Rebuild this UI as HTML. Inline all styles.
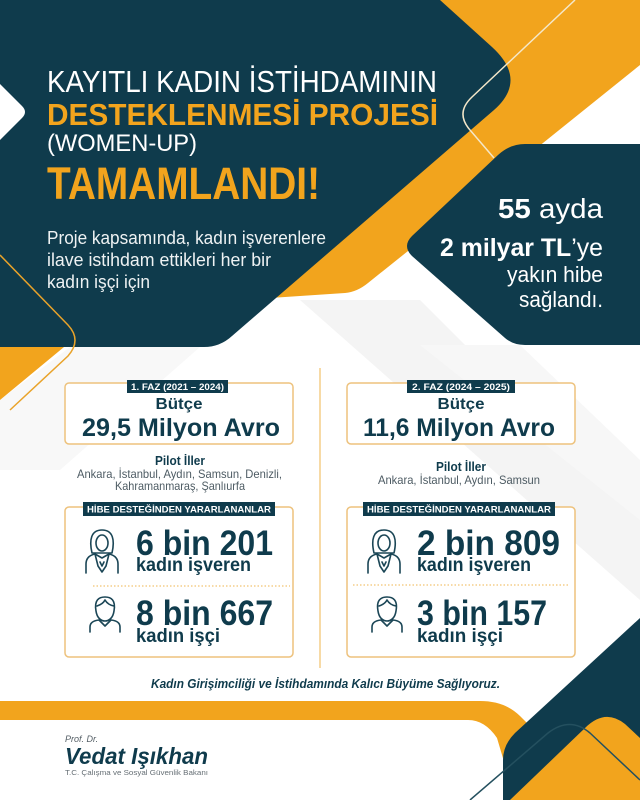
<!DOCTYPE html>
<html><head><meta charset="utf-8"><style>
html,body{margin:0;padding:0;background:#fff;}
svg{display:block;}
text{font-family:"Liberation Sans",sans-serif;}
</style></head><body>
<svg width="640" height="800" viewBox="0 0 640 800" xmlns="http://www.w3.org/2000/svg">
<rect width="640" height="800" fill="#ffffff"/>
<!-- subtle gray shading -->
<path d="M300,300 L420,300 L640,520 L640,600 Z" fill="#f4f4f4"/>
<path d="M420,345 L520,345 L640,460 L640,520 Z" fill="#f7f7f7"/>
<path d="M0,400 L70,347 L200,347 L60,470 L0,470 Z" fill="#f8f8f8"/>

<!-- orange diagonal band -->
<path d="M400,0 L640,0 L640,65 L543,143 L368,283 Q357,292 345,293 L270,298 L240,300 Z" fill="#f2a41d"/>
<!-- main dark shape -->
<path d="M0,0 L440,0 L492,47 Q528,80 494,110 L232,336 Q220,347 204,347 L0,347 Z" fill="#0f3b4c"/>
<!-- cream thin line -->
<path d="M575,0 L472,97 Q455,113 470,130 L494,158" fill="none" stroke="#f4e7c9" stroke-width="1.5"/>
<!-- right dark panel -->
<path d="M640,144 L525,144 Q510,144 498,155 L412,236 Q402,246 412,256 L505,338 Q513,345 525,345 L640,345 Z" fill="#0f3b4c"/>
<!-- left white chevron -->
<path d="M0,84 L22,106 Q28,112 22,118 L0,140 Z" fill="#ffffff"/>
<!-- left thin orange line -->
<path d="M0,255 L68,325 Q82,340 68,356 L10,410" fill="none" stroke="#e9a32a" stroke-width="1.5"/>
<!-- lower-left orange triangle -->
<path d="M0,347 L64,347 L0,400 Z" fill="#f2a41d"/>

<!-- Title texts -->
<text x="47" y="92" font-size="31" fill="#ffffff" textLength="390" lengthAdjust="spacingAndGlyphs">KAYITLI KADIN İSTİHDAMININ</text>
<text x="47" y="125" font-size="31" font-weight="bold" fill="#f2a41d" textLength="391" lengthAdjust="spacingAndGlyphs">DESTEKLENMESİ PROJESİ</text>
<text x="47" y="151" font-size="24" fill="#ffffff" textLength="150" lengthAdjust="spacingAndGlyphs">(WOMEN-UP)</text>
<text x="47" y="199" font-size="45" font-weight="bold" fill="#f2a41d" textLength="273" lengthAdjust="spacingAndGlyphs">TAMAMLANDI!</text>

<text x="47" y="244" font-size="18" fill="#eef2f3" textLength="279" lengthAdjust="spacingAndGlyphs">Proje kapsamında, kadın işverenlere</text>
<text x="47" y="266" font-size="18" fill="#eef2f3" textLength="224" lengthAdjust="spacingAndGlyphs">ilave istihdam ettikleri her bir</text>
<text x="47" y="288" font-size="18" fill="#eef2f3" textLength="103" lengthAdjust="spacingAndGlyphs">kadın işçi için</text>

<!-- right panel texts -->
<text x="603" y="218" font-size="28" fill="#ffffff" text-anchor="end" textLength="105" lengthAdjust="spacingAndGlyphs"><tspan font-weight="bold">55</tspan> ayda</text>
<text x="603" y="256" font-size="25" fill="#ffffff" text-anchor="end" textLength="163" lengthAdjust="spacingAndGlyphs"><tspan font-weight="bold">2 milyar TL</tspan>’ye</text>
<text x="603" y="282" font-size="22" fill="#ffffff" text-anchor="end" textLength="96" lengthAdjust="spacingAndGlyphs">yakın hibe</text>
<text x="603" y="307" font-size="22" fill="#ffffff" text-anchor="end" textLength="84" lengthAdjust="spacingAndGlyphs">sağlandı.</text>

<!-- vertical separator -->
<line x1="320" y1="368" x2="320" y2="668" stroke="#efb44c" stroke-width="1"/>

<!-- ===== Column 1 ===== -->
<rect x="65" y="383" width="228" height="61" rx="4" fill="#ffffff" stroke="#edc27d" stroke-width="1.5"/>
<rect x="127" y="380" width="101" height="13" fill="#0f3b4c"/>
<text x="177.5" y="390" font-size="9.5" font-weight="bold" fill="#ffffff" text-anchor="middle" textLength="93" lengthAdjust="spacingAndGlyphs">1. FAZ (2021 – 2024)</text>
<text x="179" y="409" font-size="16" font-weight="bold" fill="#0f3b4c" text-anchor="middle" textLength="47" lengthAdjust="spacingAndGlyphs">Bütçe</text>
<text x="181" y="436" font-size="25" font-weight="bold" fill="#0f3b4c" text-anchor="middle" textLength="198" lengthAdjust="spacingAndGlyphs">29,5 Milyon Avro</text>

<text x="180" y="465" font-size="13" font-weight="bold" fill="#0f3b4c" text-anchor="middle" textLength="50" lengthAdjust="spacingAndGlyphs">Pilot İller</text>
<text x="179.5" y="478" font-size="12" fill="#4d5b63" text-anchor="middle" textLength="205" lengthAdjust="spacingAndGlyphs">Ankara, İstanbul, Aydın, Samsun, Denizli,</text>
<text x="180" y="490" font-size="12" fill="#4d5b63" text-anchor="middle" textLength="130" lengthAdjust="spacingAndGlyphs">Kahramanmaraş, Şanlıurfa</text>

<rect x="65" y="507" width="228" height="150" rx="4" fill="#ffffff" stroke="#edc27d" stroke-width="1.5"/>
<rect x="83" y="502" width="192" height="14" fill="#0f3b4c"/>
<text x="179" y="512.5" font-size="9.5" font-weight="bold" fill="#ffffff" text-anchor="middle" textLength="184" lengthAdjust="spacingAndGlyphs">HİBE DESTEĞİNDEN YARARLANANLAR</text>

<g id="ic1" fill="none" stroke="#1b4656" stroke-width="1.6" stroke-linejoin="round" stroke-linecap="round">
  <path d="M92,553 C89,540 91,530 102,530 C113,530 115,540 112,553 Z"/>
  <ellipse cx="102" cy="543" rx="6" ry="8"/>
  <path d="M86,573 L86,564 Q86,556 95,554 L102,558 L109,554 Q118,556 118,564 L118,573"/>
  <path d="M95,554 L98,566 L102,572 L106,566 L109,554"/>
  <path d="M100,562 L102,566 L104,562"/>
</g>
<text x="136" y="555" font-size="35" font-weight="bold" fill="#0f3b4c" textLength="137" lengthAdjust="spacingAndGlyphs">6 bin 201</text>
<text x="136" y="571" font-size="19" font-weight="bold" fill="#0f3b4c" textLength="115" lengthAdjust="spacingAndGlyphs">kadın işveren</text>
<line x1="93" y1="586" x2="290" y2="586" stroke="#efb44c" stroke-width="1" stroke-dasharray="1.5 2"/>
<g id="ic2" fill="none" stroke="#1b4656" stroke-width="1.6" stroke-linejoin="round" stroke-linecap="round">
  <path d="M96,611 C94,600 99,597 105,597 C111,597 116,600 114,611 C113,618 109,621 105,621 C101,621 97,618 96,611 Z"/>
  <path d="M97,606 Q103,604 105,600 Q108,605 114,606"/>
  <path d="M90,632 L90,627 Q90,621 99,620 L105,626 L111,620 Q120,621 120,627 L120,632"/>
</g>
<text x="136" y="625" font-size="35" font-weight="bold" fill="#0f3b4c" textLength="137" lengthAdjust="spacingAndGlyphs">8 bin 667</text>
<text x="136" y="642" font-size="19" font-weight="bold" fill="#0f3b4c" textLength="84" lengthAdjust="spacingAndGlyphs">kadın işçi</text>

<!-- ===== Column 2 ===== -->
<rect x="347" y="383" width="228" height="61" rx="4" fill="#ffffff" stroke="#edc27d" stroke-width="1.5"/>
<rect x="407" y="380" width="108" height="13" fill="#0f3b4c"/>
<text x="461" y="390" font-size="9.5" font-weight="bold" fill="#ffffff" text-anchor="middle" textLength="98" lengthAdjust="spacingAndGlyphs">2. FAZ (2024 – 2025)</text>
<text x="461" y="409" font-size="16" font-weight="bold" fill="#0f3b4c" text-anchor="middle" textLength="47" lengthAdjust="spacingAndGlyphs">Bütçe</text>
<text x="459" y="436" font-size="25" font-weight="bold" fill="#0f3b4c" text-anchor="middle" textLength="192" lengthAdjust="spacingAndGlyphs">11,6 Milyon Avro</text>

<text x="461" y="471" font-size="13" font-weight="bold" fill="#0f3b4c" text-anchor="middle" textLength="50" lengthAdjust="spacingAndGlyphs">Pilot İller</text>
<text x="459" y="484" font-size="12" fill="#4d5b63" text-anchor="middle" textLength="162" lengthAdjust="spacingAndGlyphs">Ankara, İstanbul, Aydın, Samsun</text>

<rect x="347" y="507" width="228" height="150" rx="4" fill="#ffffff" stroke="#edc27d" stroke-width="1.5"/>
<rect x="363" y="502" width="192" height="14" fill="#0f3b4c"/>
<text x="459" y="512.5" font-size="9.5" font-weight="bold" fill="#ffffff" text-anchor="middle" textLength="184" lengthAdjust="spacingAndGlyphs">HİBE DESTEĞİNDEN YARARLANANLAR</text>

<use href="#ic1" transform="translate(282,0)"/>
<text x="417" y="555" font-size="35" font-weight="bold" fill="#0f3b4c" textLength="143" lengthAdjust="spacingAndGlyphs">2 bin 809</text>
<text x="417" y="571" font-size="19" font-weight="bold" fill="#0f3b4c" textLength="114" lengthAdjust="spacingAndGlyphs">kadın işveren</text>
<line x1="353" y1="585" x2="570" y2="585" stroke="#efb44c" stroke-width="1" stroke-dasharray="1.5 2"/>
<use href="#ic2" transform="translate(282,0)"/>
<text x="417" y="625" font-size="35" font-weight="bold" fill="#0f3b4c" textLength="130" lengthAdjust="spacingAndGlyphs">3 bin 157</text>
<text x="417" y="642" font-size="19" font-weight="bold" fill="#0f3b4c" textLength="86" lengthAdjust="spacingAndGlyphs">kadın işçi</text>

<!-- tagline -->
<text x="151" y="688" font-size="12.5" font-weight="bold" font-style="italic" fill="#0f3b4c" textLength="349" lengthAdjust="spacingAndGlyphs">Kadın Girişimciliği ve İstihdamında Kalıcı Büyüme Sağlıyoruz.</text>

<!-- bottom orange band -->
<path d="M0,701 L480,701 Q505,701 520,716 L540,736 L505,765 L497,738 Q485,720 468,720 L0,720 Z" fill="#f2a41d"/>
<!-- bottom-right dark shape -->
<path d="M640,618 L515,733 Q503,745 503,760 L503,800 L640,800 Z" fill="#0f3b4c"/>
<!-- bottom-right orange -->
<path d="M510,800 L585,728 Q605,708 625,724 L640,738 L640,800 Z" fill="#f2a41d"/>
<!-- thin line bottom-right -->
<path d="M470,800 L548,733 Q570,716 590,733 L640,780" fill="none" stroke="#24505f" stroke-width="1.5"/>

<!-- signature -->
<text x="65" y="742" font-size="9" font-style="italic" fill="#555f66">Prof. Dr.</text>
<text x="65" y="764" font-size="23" font-weight="bold" font-style="italic" fill="#0f3b4c" textLength="143" lengthAdjust="spacingAndGlyphs">Vedat Işıkhan</text>
<text x="65" y="775" font-size="7.5" fill="#666f75" textLength="143" lengthAdjust="spacingAndGlyphs">T.C. Çalışma ve Sosyal Güvenlik Bakanı</text>
</svg>
</body></html>
